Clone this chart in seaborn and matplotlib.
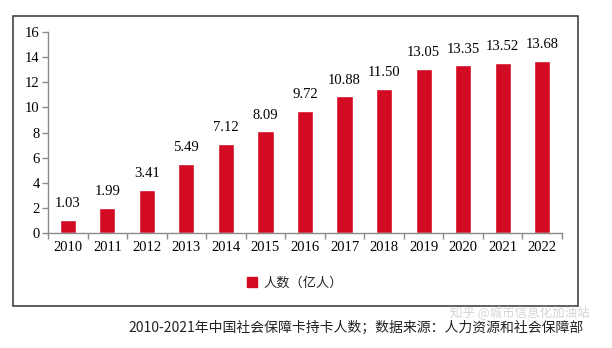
import matplotlib
matplotlib.use("Agg")
import matplotlib.pyplot as plt
import seaborn as sns
import numpy as np
import pandas as pd
from matplotlib.patches import Rectangle, Patch

years = ["2010", "2011", "2012", "2013", "2014", "2015", "2016",
         "2017", "2018", "2019", "2020", "2021", "2022"]
values = [1.03, 1.99, 3.41, 5.49, 7.12, 8.09, 9.72,
          10.88, 11.50, 13.05, 13.35, 13.52, 13.68]
value_labels = ["1.03", "1.99", "3.41", "5.49", "7.12", "8.09", "9.72",
                "10.88", "11.50", "13.05", "13.35", "13.52", "13.68"]
y_ticks = [0, 2, 4, 6, 8, 10, 12, 14, 16]
legend_label = "人数（亿人）"
caption = "2010-2021年中国社会保障卡持卡人数；数据来源：人力资源和社会保障部"
watermark = "知乎 @城市信息化加油站"

sns.set_theme(style="white")
plt.rcParams['font.family'] = ['Liberation Serif', 'Noto Sans CJK SC']

df = pd.DataFrame({"year": years, "value": values})
bar_color = "#d20a22"
spine_color = "#8a8a8a"

fig = plt.figure(figsize=(6.12, 3.48), dpi=100)
ax = fig.add_axes([48/612, 1-233/348, (562-48)/612, (233-32)/348])

sns.barplot(data=df, x="year", y="value", color=bar_color, width=0.41,
            saturation=1, ax=ax)

ax.set_xlim(-0.5, len(years) - 0.5)
ax.set_ylim(0, 16)
ax.set_yticks(y_ticks)
ax.set_yticklabels([str(t) for t in y_ticks], fontsize=10.5)
ax.set_xticks(np.arange(len(years)))
ax.set_xticklabels(years, fontsize=10.5)
ax.set_xticks(np.arange(-0.5, len(years), 1), minor=True)
ax.tick_params(axis='x', which='major', length=0, pad=6, colors='black')
ax.tick_params(axis='x', which='minor', length=4, width=1, color=spine_color,
               direction='out', bottom=True)
ax.tick_params(axis='y', which='major', length=4, width=1, color=spine_color,
               direction='out', left=True, pad=2, labelcolor='black')
ax.set_xlabel("")
ax.set_ylabel("")
for s in ["top", "right"]:
    ax.spines[s].set_visible(False)
for s in ["left", "bottom"]:
    ax.spines[s].set_color(spine_color)
    ax.spines[s].set_linewidth(1)

for i, (v, lab) in enumerate(zip(values, value_labels)):
    ax.annotate(lab, (i, v), xytext=(0, 7), textcoords="offset points",
                ha="center", va="bottom", fontsize=10.5, color="black")

# outer frame
fig.patches.append(Rectangle((13/612, 1-306/348), (578-13)/612, (306-16)/348,
                             transform=fig.transFigure, fill=False,
                             edgecolor="#333333", linewidth=1.1))

handle = Patch(facecolor=bar_color, edgecolor=bar_color)
fig.legend([handle], [legend_label], loc="center", bbox_to_anchor=(295/612, 1-283/348),
           frameon=False, handlelength=0.8, handleheight=0.8, handletextpad=0.5,
           prop={'family': ['Noto Sans CJK SC'], 'size': 9.5})

fig.text(128/612, 1-328/348, caption, ha="left", va="center", fontsize=10,
         family=['Noto Sans CJK SC', 'DejaVu Sans'], color="#222222")
fig.text(590/612, 1-313/348, watermark, ha="right", va="center", fontsize=9,
         family=['Noto Sans CJK SC', 'DejaVu Sans'], color="#c4c4c4", alpha=0.7)

fig.savefig("out.png", dpi=100, facecolor="white")
